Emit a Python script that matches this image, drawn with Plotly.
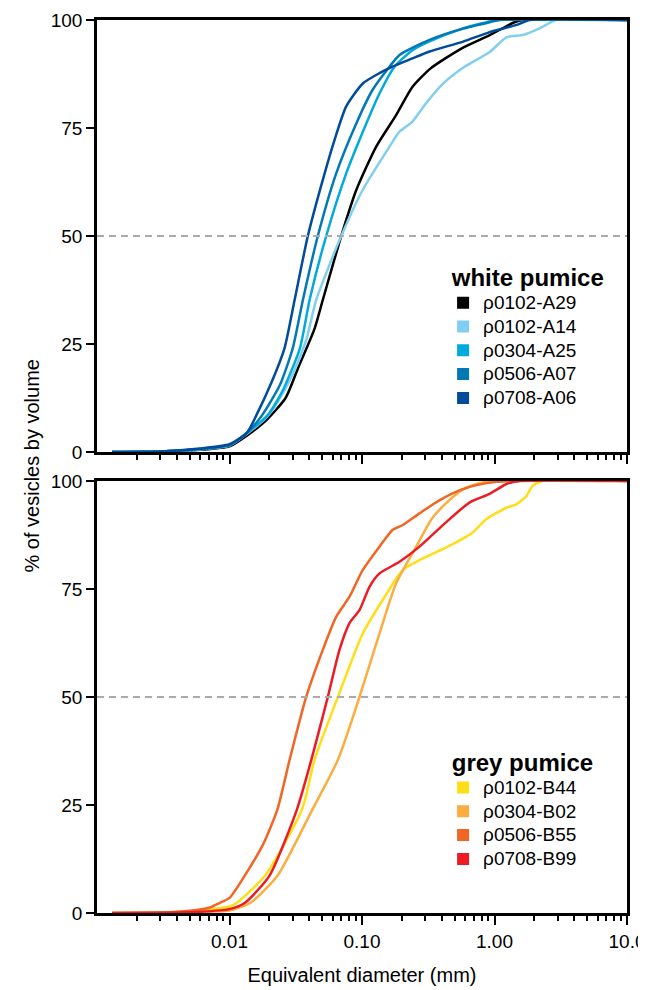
import plotly.graph_objects as go
from plotly.subplots import make_subplots

# ---- data: white pumice (diameter in mm, cumulative % by volume) ----
A29_x = [0.0013, 0.003, 0.006, 0.01, 0.0135, 0.019, 0.0265, 0.033, 0.0438, 0.0506, 0.0697, 0.0904, 0.128, 0.181, 0.24, 0.33, 0.57, 0.92, 1.37, 1.62, 10]
A29_y = [0, 0.1, 0.5, 1.3, 3.8, 7.4, 12.5, 19.5, 28.5, 35.2, 50, 60.6, 70.7, 78, 84.5, 88.8, 93.5, 96.5, 99.3, 100, 100]

A14_x = [0.0013, 0.003, 0.006, 0.01, 0.0135, 0.019, 0.023, 0.03, 0.038, 0.0451, 0.0697, 0.1009, 0.1613, 0.19, 0.2404, 0.3, 0.4, 0.575, 0.92, 1.23, 1.62, 2.17, 2.92, 10]
A14_y = [0, 0.1, 0.6, 1.5, 4.2, 8, 11.5, 18, 26, 35.2, 50, 60.6, 70.7, 74, 76.5, 80.5, 85, 88.9, 92.6, 96, 96.5, 98, 100, 100]

A25_x = [0.0013, 0.003, 0.006, 0.01, 0.0135, 0.0195, 0.025, 0.034, 0.0402, 0.0537, 0.076, 0.1076, 0.1355, 0.176, 0.2404, 0.32, 0.575, 0.87, 1.0, 10]
A25_y = [0, 0.1, 0.7, 1.6, 4.4, 8.6, 14, 24, 35.2, 50, 64.5, 76, 83, 89.2, 93, 95, 98, 99.5, 100, 100]

A07_x = [0.0013, 0.003, 0.006, 0.01, 0.0135, 0.0177, 0.024, 0.030, 0.0358, 0.0464, 0.0639, 0.0904, 0.12, 0.1613, 0.192, 0.3232, 0.575, 0.92, 1.1, 10]
A07_y = [0, 0.1, 0.7, 1.6, 4.4, 8.6, 15.5, 24, 35.2, 50, 64.5, 76, 83.8, 89.2, 91.9, 95.4, 98, 99.5, 100, 100]

A06_x = [0.0013, 0.003, 0.006, 0.01, 0.0135, 0.016, 0.021, 0.026, 0.031, 0.039, 0.0506, 0.062, 0.076, 0.1014, 0.1355, 0.17, 0.2404, 0.3232, 0.58, 0.92, 1.45, 1.85, 10]
A06_y = [0, 0.1, 0.8, 1.8, 4.4, 8.6, 16.5, 24, 35.2, 50, 63, 72.2, 80, 85.3, 87.7, 89.2, 91.1, 92.7, 95, 97.2, 98.8, 100, 100]

# ---- data: grey pumice ----
B44_x = [0.0013, 0.003, 0.006, 0.01, 0.0113, 0.0185, 0.0353, 0.0438, 0.0657, 0.1014, 0.1436, 0.2032, 0.2716, 0.426, 0.68, 0.87, 1.23, 1.46, 1.74, 1.93, 2.29, 10]
B44_y = [0, 0.1, 0.6, 1.5, 2.3, 8.6, 24, 35.4, 50, 64.7, 72.5, 79.4, 81.7, 84.5, 88, 91.2, 93.8, 94.6, 96.5, 98.8, 100, 100]

B02_x = [0.0013, 0.003, 0.006, 0.01, 0.0143, 0.023, 0.0423, 0.0657, 0.0957, 0.1355, 0.181, 0.2565, 0.3355, 0.426, 0.575, 0.767, 1.035, 10]
B02_y = [0, 0.05, 0.2, 0.6, 2.3, 8.6, 24, 35.4, 50, 64.7, 76.3, 84.8, 91.2, 94.7, 98, 99.5, 100, 100]

B55_x = [0.0013, 0.003, 0.005, 0.007, 0.0084, 0.01, 0.013, 0.018, 0.023, 0.0284, 0.0379, 0.0506, 0.0639, 0.0805, 0.1014, 0.1355, 0.1708, 0.2032, 0.2716, 0.378, 0.575, 0.87, 1.37, 10]
B55_y = [0, 0.1, 0.5, 1.2, 2.3, 3.5, 8.6, 16, 24, 35.4, 50, 60.9, 68.6, 73.2, 79.4, 84.8, 88.7, 89.8, 92.5, 95.4, 98.1, 99.5, 100, 100]

B99_x = [0.0013, 0.003, 0.006, 0.01, 0.013, 0.02, 0.0323, 0.0414, 0.0552, 0.0676, 0.0805, 0.0957, 0.1139, 0.1355, 0.1919, 0.2716, 0.426, 0.647, 0.917, 1.23, 1.54, 10]
B99_y = [0, 0.05, 0.3, 0.9, 2.3, 8.6, 24, 35.4, 50, 60.9, 67.1, 70.1, 75.5, 78.6, 81.3, 84.8, 90.3, 95, 97, 99.3, 100, 100]

white_names = ["ρ0102-A29", "ρ0102-A14", "ρ0304-A25", "ρ0506-A07", "ρ0708-A06"]
white_colors = ["#000000", "#80cff0", "#00aadc", "#0079b5", "#004b9a"]
white_data = [(A29_x, A29_y), (A14_x, A14_y), (A25_x, A25_y), (A07_x, A07_y), (A06_x, A06_y)]

grey_names = ["ρ0102-B44", "ρ0304-B02", "ρ0506-B55", "ρ0708-B99"]
grey_colors = ["#ffde17", "#fbad40", "#f26522", "#ed1c24"]
grey_data = [(B44_x, B44_y), (B02_x, B02_y), (B55_x, B55_y), (B99_x, B99_y)]

y_ticks = [0, 25, 50, 75, 100]
x_ticks = [0.01, 0.1, 1, 10]
x_ticktext = ["0.01", "0.10", "1.00", "10.0"]

FONT = "Liberation Sans, Arial, sans-serif"

fig = make_subplots(rows=2, cols=1, vertical_spacing=0.0324)

def add_group(data, names, colors, row, legend):
    for (xs, ys), n, c in zip(data, names, colors):
        fig.add_trace(go.Scatter(x=xs, y=ys, mode="lines", name=n,
                                 line=dict(color=c, width=2.5, shape="spline", smoothing=0.6),
                                 showlegend=False, legendgroup=n, hoverinfo="skip"),
                      row=row, col=1)
    for n, c in zip(names, colors):
        fig.add_trace(go.Scatter(x=[None], y=[None], mode="markers",
                                 name='<span style="font-size:19px">' + n + '</span>',
                                 marker=dict(symbol="square", size=16, color=c),
                                 showlegend=True, legendgroup=n, legend=legend),
                      row=row, col=1)

add_group(white_data, white_names, white_colors, 1, "legend")
add_group(grey_data, grey_names, grey_colors, 2, "legend2")

for r in (1, 2):
    fig.add_hline(y=50, line=dict(color="#aaaaaa", width=2, dash="7px,5px"), row=r, col=1)

minor_vals = [k * 10 ** e for e in range(-3, 1) for k in range(2, 10)]
for r in (1, 2):
    fig.update_xaxes(type="log", range=[-3, 1], row=r, col=1, automargin=False,
                     showline=True, linecolor="black", linewidth=2.5, mirror=True,
                     ticks="outside", ticklen=9, tickwidth=2, tickcolor="black",
                     tickvals=x_ticks, ticktext=x_ticktext,
                     showticklabels=(r == 2),
                     minor=dict(ticks="outside", ticklen=5, tickwidth=2, tickcolor="black",
                                tickvals=minor_vals, showgrid=False),
                     showgrid=False, zeroline=False,
                     tickfont=dict(family=FONT, size=19, color="black"))
    fig.update_yaxes(range=[0, 100], row=r, col=1, automargin=False,
                     showline=True, linecolor="black", linewidth=2.5, mirror=True,
                     ticks="outside", ticklen=8, tickwidth=2, tickcolor="black",
                     tickvals=y_ticks, showgrid=False, zeroline=False,
                     tickfont=dict(family=FONT, size=19, color="black"))

fig.update_xaxes(title=dict(text="Equivalent diameter (mm)", font=dict(family=FONT, size=20, color="black"),
                            standoff=18), row=2, col=1)

fig.add_annotation(text="% of vesicles by volume", xref="paper", yref="paper",
                   x=0, y=0.5, xshift=-79, textangle=-90, showarrow=False,
                   font=dict(family=FONT, size=20, color="black"))

legend_common = dict(font=dict(family=FONT, size=16, color="black"), bgcolor="rgba(0,0,0,0)",
                     tracegroupgap=0, itemsizing="constant", xanchor="left", yanchor="bottom",
                     itemclick=False, itemdoubleclick=False)
fig.update_layout(
    legend=dict(x=0.653, y=0.557,
                title=dict(text="<b>\u00a0white pumice</b>", font=dict(family=FONT, size=24, color="black")),
                **legend_common),
    legend2=dict(x=0.653, y=0.041,
                 title=dict(text="<b>\u00a0grey pumice</b>", font=dict(family=FONT, size=24, color="black")),
                 **legend_common),
    # the page body has an 8px margin, so the figure is sized to end at the window edge
    width=638, height=982,
    margin=dict(l=89, r=19, t=12, b=77),
    plot_bgcolor="white", paper_bgcolor="white",
    font=dict(family=FONT, color="black"),
)

fig.write_html("out.html")
